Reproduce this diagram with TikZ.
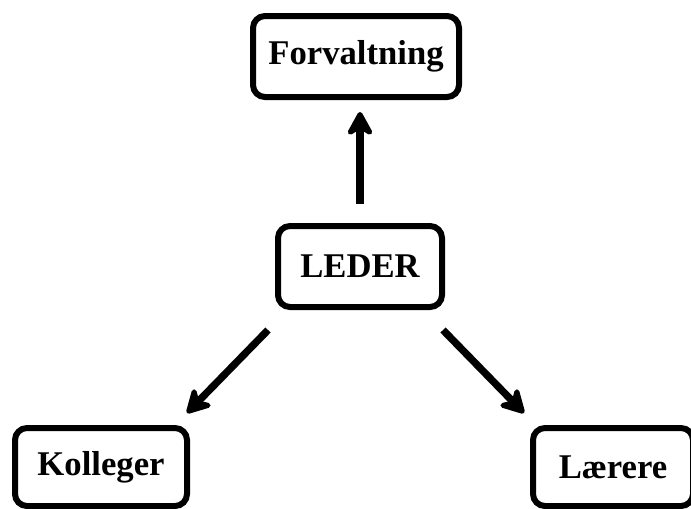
\documentclass[tikz,border=0pt]{standalone}
\usepackage{fontspec}
\setmainfont{Liberation Serif}
\usetikzlibrary{arrows.meta}
\begin{document}
\begin{tikzpicture}[x=0.75pt,y=-0.75pt,
  box/.style={draw=black, line width=4.5pt, rounded corners=9pt, fill=white,
    font=\fontsize{26}{30}\selectfont\bfseries, inner sep=0pt},
  arr/.style={line width=5.5pt, -{Stealth[length=22pt,width=24pt,inset=7pt,round]}}]
\useasboundingbox (0,0) rectangle (691,508);
\fill[white] (0,0) rectangle (691,508);
\node[box, minimum width=206*0.75pt, minimum height=81*0.75pt] (forv) at (356,56.5) {Forvaltning};
\node[box, minimum width=164*0.75pt, minimum height=81*0.75pt] (leder) at (360,266.5) {LEDER};
\node[box, minimum width=172*0.75pt, minimum height=78*0.75pt] (koll) at (101,467) {Kolleger};
\node[box, minimum width=160*0.75pt, minimum height=78*0.75pt] (laer) at (613,467) {Lærere};
\coordinate (a1s) at (360,204);
\coordinate (a1e) at (360,112);
\coordinate (a2s) at (268,330);
\coordinate (a2e) at (187,413);
\coordinate (a3s) at (443,330);
\coordinate (a3e) at (524,413);
\draw[arr] (a1s) -- (a1e);
\draw[arr] (a2s) -- (a2e);
\draw[arr] (a3s) -- (a3e);
\end{tikzpicture}
\end{document}
